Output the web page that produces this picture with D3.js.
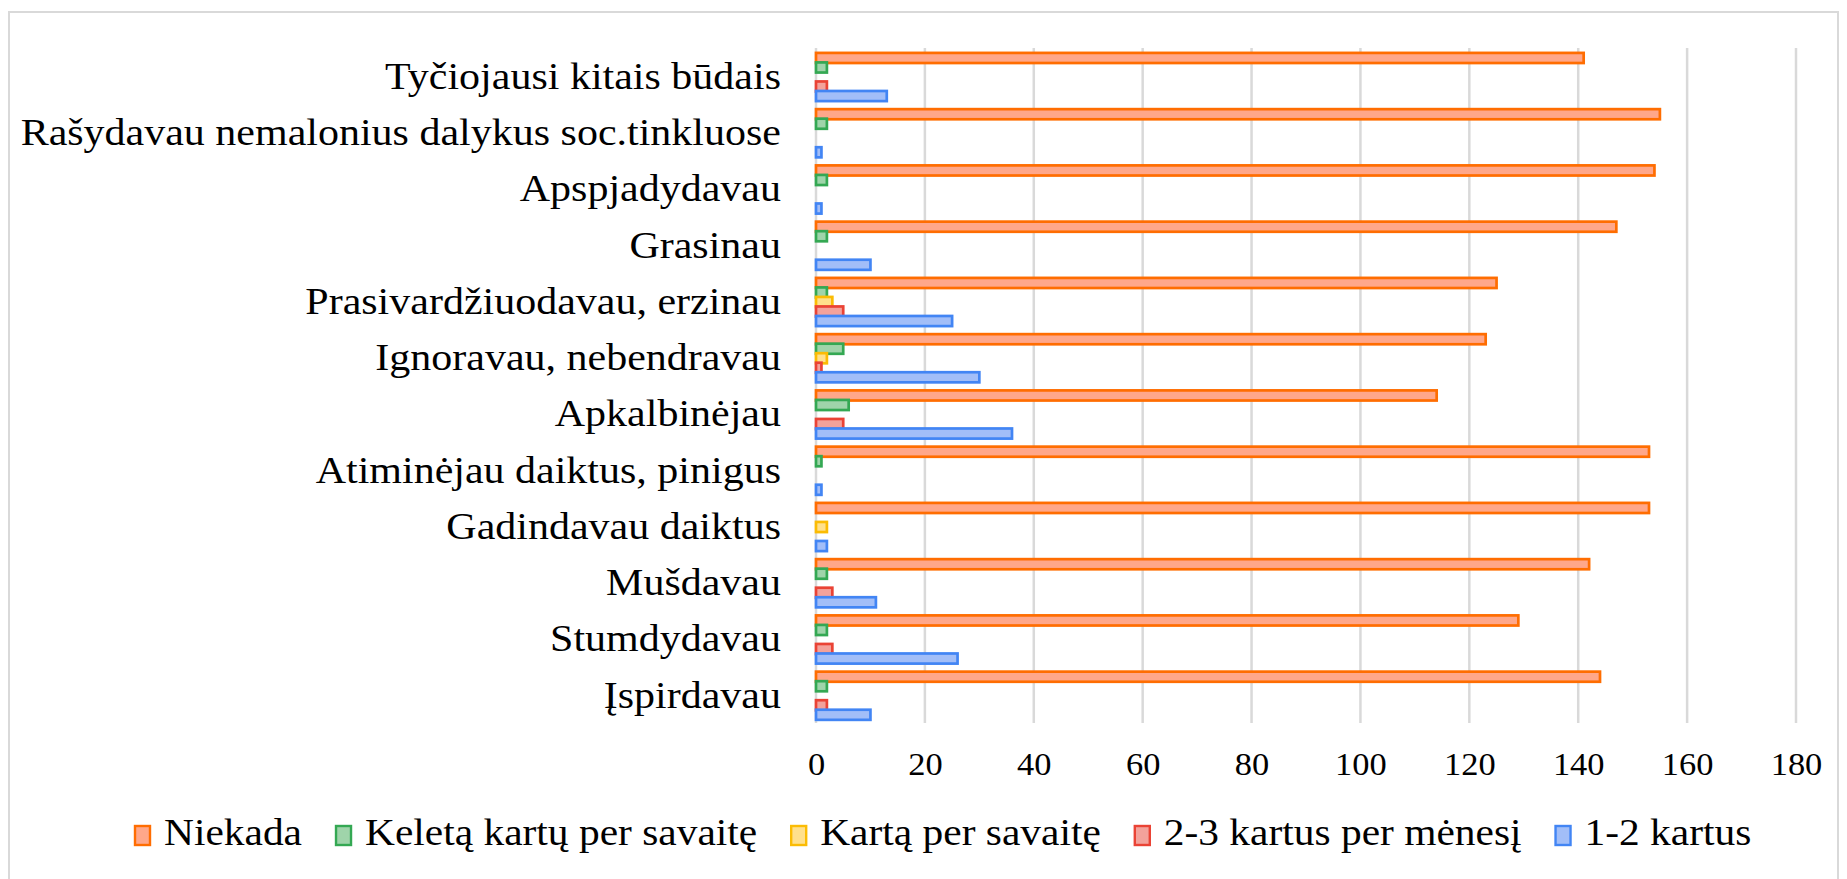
<!DOCTYPE html>
<html>
<head>
<meta charset="utf-8">
<script src="https://cdn.jsdelivr.net/npm/d3@7"></script>
<style>
  body { margin: 0; background: #fff; }
  text { font-family: "Liberation Serif", "Times New Roman", serif; fill: #000; }
</style>
</head>
<body>
<svg id="chart" width="1847" height="879"></svg>
<script>
// categories from bottom to top, as in the source sheet
var categories = ["Įspirdavau", "Stumdydavau", "Mušdavau", "Gadindavau daiktus",
  "Atiminėjau daiktus, pinigus", "Apkalbinėjau", "Ignoravau, nebendravau",
  "Prasivardžiuodavau, erzinau", "Grasinau", "Apspjadydavau",
  "Rašydavau nemalonius dalykus soc.tinkluose", "Tyčiojausi kitais būdais"];

var seriesNames = ["Niekada", "Keletą kartų per savaitę", "Kartą per savaitę",
  "2-3 kartus per mėnesį", "1-2 kartus"];

var niekada   = [144, 129, 142, 153, 153, 114, 123, 125, 147, 154, 155, 141];
var keleta    = [2, 2, 2, 0, 1, 6, 5, 2, 2, 2, 2, 2];
var karta     = [0, 0, 0, 2, 0, 0, 2, 3, 0, 0, 0, 0];
var kartus23  = [2, 3, 3, 0, 0, 5, 1, 5, 0, 0, 0, 2];
var kartus12  = [10, 26, 11, 2, 1, 36, 30, 25, 10, 1, 1, 13];

var xTicks = [0, 20, 40, 60, 80, 100, 120, 140, 160, 180];

var strokeColors = ["#ff6d01", "#34a853", "#fbbc04", "#ea4335", "#4285f4"];
var fillColors   = ["#ffa78a", "#9fd4aa", "#ffe08c", "#f3a29b", "#a2bef8"];

var allValues = [niekada, keleta, karta, kartus23, kartus12];
var stretch = 1.077;

var svg = d3.select("#chart");

// frame
svg.append("rect")
  .attr("x", 9).attr("y", 12).attr("width", 1829).attr("height", 900)
  .attr("fill", "none").attr("stroke", "#d9d9d9").attr("stroke-width", 2);

var plotLeft = 816, plotRight = 1796, plotTop = 48, plotBottom = 723;

var x = d3.scaleLinear().domain([0, 180]).range([plotLeft, plotRight]);
var y0 = d3.scaleBand().domain(categories.slice().reverse()).range([plotTop, plotBottom]);
var y1 = d3.scaleBand().domain(d3.range(seriesNames.length)).range([4.9, 52.5]);

// gridlines
svg.append("g").selectAll("line")
  .data(xTicks)
  .enter().append("line")
    .attr("x1", function(d) { return x(d); })
    .attr("x2", function(d) { return x(d); })
    .attr("y1", plotTop).attr("y2", plotBottom)
    .attr("stroke", "#d9d9d9")
    .attr("stroke-width", 2.5);

// bars
var rows = categories.map(function(c, i) {
  return { cat: c, vals: allValues.map(function(s) { return s[i]; }) };
});

var groups = svg.append("g").selectAll("g")
  .data(rows)
  .enter().append("g")
    .attr("transform", function(d) { return "translate(0," + y0(d.cat) + ")"; });

groups.selectAll("rect")
  .data(function(d) {
    return d.vals.map(function(v, k) { return { v: v, k: k }; })
      .filter(function(d) { return d.v > 0; });
  })
  .enter().append("rect")
    .attr("x", x(0))
    .attr("y", function(d) { return y1(d.k); })
    .attr("width", function(d) { return x(d.v) - x(0); })
    .attr("height", y1.bandwidth() + 0.6)
    .attr("fill", function(d) { return fillColors[d.k]; })
    .attr("stroke", function(d) { return strokeColors[d.k]; })
    .attr("stroke-width", 2.7);

// category labels
var yAxisG = svg.append("g")
  .attr("transform", "translate(781,0) scale(" + stretch + ",1)")
  .call(d3.axisLeft(y0).tickSize(0).tickPadding(0));
yAxisG.select(".domain").remove();
yAxisG.selectAll("text")
  .attr("font-size", 39)
  .attr("dy", "0.33em")
  .style("font-family", '"Liberation Serif", "Times New Roman", serif');

// value axis
var xAxisG = svg.append("g")
  .attr("transform", "translate(0," + plotBottom + ")")
  .call(d3.axisBottom(x).tickValues(xTicks).tickSize(0).tickPadding(0));
xAxisG.select(".domain").remove();
xAxisG.selectAll("text")
  .attr("y", 52)
  .attr("dy", 0)
  .attr("font-size", 32)
  .attr("transform", "scale(" + stretch + ",1)")
  .style("font-family", '"Liberation Serif", "Times New Roman", serif');

// legend
var legend = svg.append("g");
var lx = 135;
var legendStretch = stretch * 1.04;
seriesNames.forEach(function(name, k) {
  legend.append("rect")
    .attr("x", lx).attr("y", 826)
    .attr("width", 15).attr("height", 19)
    .attr("fill", fillColors[k])
    .attr("stroke", strokeColors[k])
    .attr("stroke-width", 2.4);
  var t = legend.append("text")
    .attr("transform", "translate(" + (lx + 29) + ",845) scale(" + legendStretch + ",1)")
    .attr("font-size", 37)
    .text(name);
  var w = t.node().getComputedTextLength() * legendStretch;
  lx = lx + 29 + w + 34;
});
</script>
</body>
</html>
